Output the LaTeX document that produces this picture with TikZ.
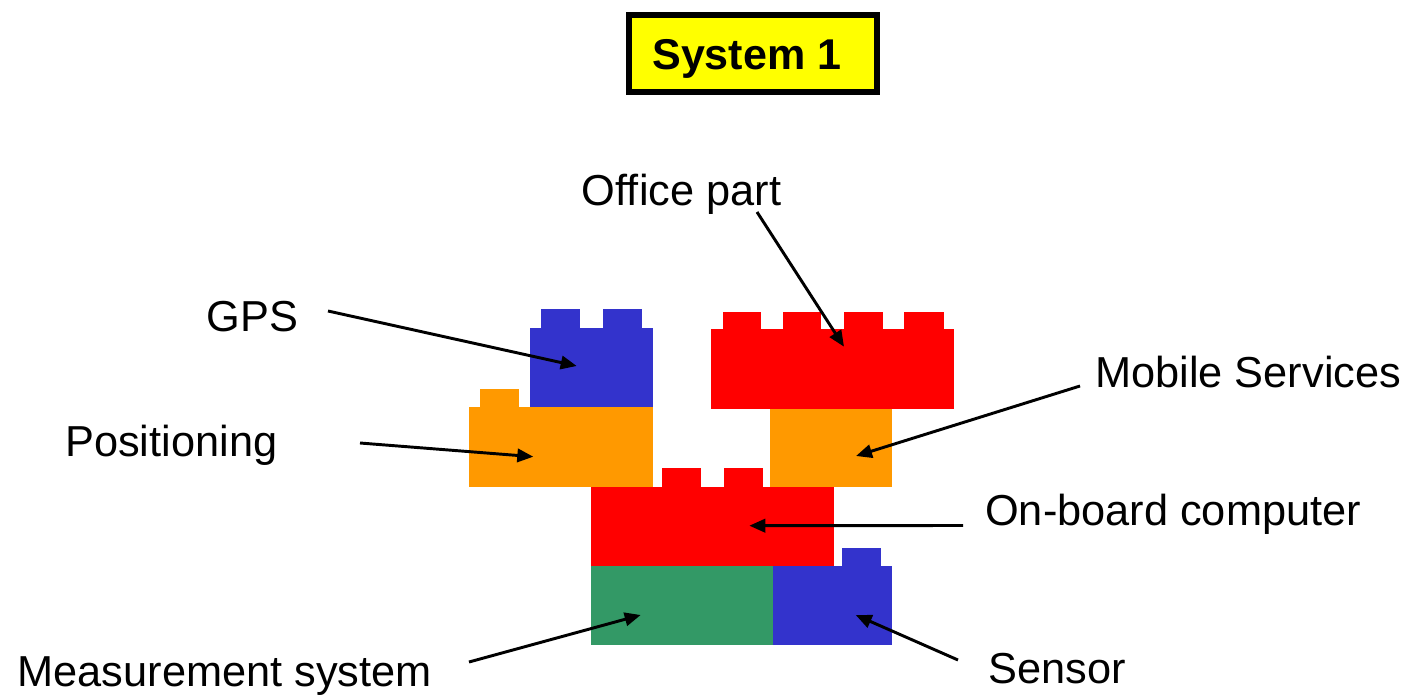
\documentclass[tikz,border=0pt]{standalone}
\usepackage{fontspec}
\setmainfont{Liberation Sans}
\usetikzlibrary{arrows.meta}
\definecolor{brickblue}{HTML}{3333CC}
\definecolor{brickorange}{HTML}{FF9900}
\definecolor{brickred}{HTML}{FF0000}
\definecolor{brickgreen}{HTML}{339966}
\definecolor{titleyellow}{HTML}{FFFF00}
\begin{document}
\begin{tikzpicture}[x=0.75pt,y=-0.75pt,
  label/.style={inner sep=0pt,anchor=base west,font=\fontsize{32.5}{40}\selectfont},
  pointer/.style={draw=black,line width=2.2pt,-{Triangle[length=12pt,width=10pt]}},
  blue brick/.style={fill=brickblue},
  orange brick/.style={fill=brickorange},
  red brick/.style={fill=brickred},
  green brick/.style={fill=brickgreen}]
\useasboundingbox (0,0) rectangle (1408,695);

% title box
\draw[line width=4.5pt,fill=titleyellow] (628.7,14.7) rectangle (877,92);
\node[label,font=\fontsize{32.3}{40}\selectfont\bfseries] (title) at (652,70) {System 1};

% GPS brick (blue, two studs)
\fill[blue brick] (530,327.7) rectangle (652.7,407.3);
\fill[blue brick] (541,309.3) rectangle (580,328);
\fill[blue brick] (602.7,309.3) rectangle (641.7,328);

% Positioning brick (orange, one stud)
\fill[orange brick] (469.3,407.3) rectangle (652.7,486.7);
\fill[orange brick] (480,389) rectangle (519,408);

% Office part brick (red, four studs)
\fill[red brick] (711,329.3) rectangle (954,408.7);
\fill[red brick] (722.7,312) rectangle (760.7,330);
\fill[red brick] (783,312) rectangle (821,330);
\fill[red brick] (844,312) rectangle (883,330);
\fill[red brick] (904.3,312) rectangle (944,330);

% Mobile Services brick (orange)
\fill[orange brick] (769.7,408.7) rectangle (892,486.7);

% On-board computer brick (red, two studs)
\fill[red brick] (590.7,486.7) rectangle (834,566);
\fill[red brick] (662.3,468.3) rectangle (700.7,487.5);
\fill[red brick] (723.7,468.3) rectangle (762.7,487.5);

% Measurement system brick (green)
\fill[green brick] (590.7,566) rectangle (772.7,645.3);

% Sensor brick (blue, one stud)
\fill[blue brick] (772.7,566) rectangle (892,645.3);
\fill[blue brick] (842.3,547.7) rectangle (881,567);

% labels
\node[label] (office) at (581.7,205) {Office part};
\node[label] (gps) at (206.7,331.7) {GPS};
\node[label] (mobile) at (1095,387.7) {Mobile Services};
\node[label] (positioning) at (65,456) {Positioning};
\node[label] (onboard) at (985,525) {On-board computer};
\node[label] (measurement) at (17.3,686.7) {Measurement system};
\node[label] (sensor) at (988.3,683.3) {Sensor};

% pointer ends
\coordinate (office-s) at (757,212);
\coordinate (office-t) at (844,346.7);
\coordinate (gps-s) at (328,311);
\coordinate (gps-t) at (576.7,366);
\coordinate (pos-s) at (360,443);
\coordinate (pos-t) at (533.3,456.7);
\coordinate (mobile-s) at (1080,386);
\coordinate (mobile-t) at (856,456);
\coordinate (onboard-s) at (963,525.5);
\coordinate (onboard-t) at (749.3,525.7);
\coordinate (meas-s) at (469,662);
\coordinate (meas-t) at (640.7,615);
\coordinate (sensor-s) at (958,660);
\coordinate (sensor-t) at (855.7,615);

\draw[pointer] (office-s) -- (office-t);
\draw[pointer] (gps-s) -- (gps-t);
\draw[pointer] (pos-s) -- (pos-t);
\draw[pointer] (mobile-s) -- (mobile-t);
\draw[pointer] (onboard-s) -- (onboard-t);
\draw[pointer] (meas-s) -- (meas-t);
\draw[pointer] (sensor-s) -- (sensor-t);
\end{tikzpicture}
\end{document}
